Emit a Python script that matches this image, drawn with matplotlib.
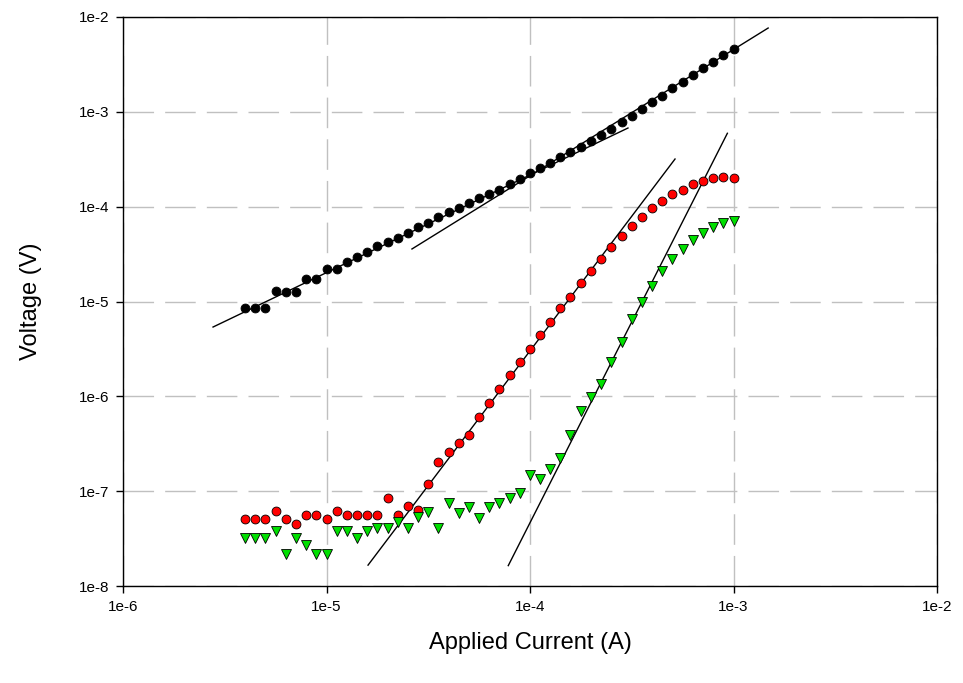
import matplotlib
matplotlib.use("Agg")
import matplotlib.pyplot as plt
from matplotlib.ticker import FixedLocator, NullLocator, FixedFormatter

plt.rcParams['font.family'] = ['Liberation Sans', 'DejaVu Sans']

# Applied current (A)
current = [3.98e-6, 4.47e-6, 5.01e-6, 5.62e-6, 6.31e-6, 7.08e-6, 7.94e-6, 8.91e-6,
           1.00e-5, 1.12e-5, 1.26e-5, 1.41e-5, 1.58e-5, 1.78e-5, 2.00e-5, 2.24e-5,
           2.51e-5, 2.82e-5, 3.16e-5, 3.55e-5, 3.98e-5, 4.47e-5, 5.01e-5, 5.62e-5,
           6.31e-5, 7.08e-5, 7.94e-5, 8.91e-5, 1.00e-4, 1.12e-4, 1.26e-4, 1.41e-4,
           1.58e-4, 1.78e-4, 2.00e-4, 2.24e-4, 2.51e-4, 2.82e-4, 3.16e-4, 3.55e-4,
           3.98e-4, 4.47e-4, 5.01e-4, 5.62e-4, 6.31e-4, 7.08e-4, 7.94e-4, 8.91e-4,
           1.00e-3]

# Voltage (V) series
v_black = [8.60e-6, 8.60e-6, 8.48e-6, 1.29e-5, 1.27e-5, 1.27e-5, 1.73e-5, 1.73e-5,
           2.18e-5, 2.18e-5, 2.59e-5, 2.97e-5, 3.35e-5, 3.85e-5, 4.27e-5, 4.73e-5,
           5.24e-5, 6.03e-5, 6.72e-5, 7.83e-5, 8.72e-5, 9.61e-5, 1.093e-4, 1.225e-4,
           1.36e-4, 1.51e-4, 1.75e-4, 1.97e-4, 2.25e-4, 2.54e-4, 2.87e-4, 3.31e-4,
           3.80e-4, 4.29e-4, 4.98e-4, 5.69e-4, 6.64e-4, 7.72e-4, 9.04e-4, 1.071e-3,
           1.279e-3, 1.480e-3, 1.771e-3, 2.078e-3, 2.446e-3, 2.877e-3, 3.38e-3, 3.97e-3,
           4.60e-3]

v_red = [5.05e-8, 5.05e-8, 5.05e-8, 6.18e-8, 5.05e-8, 4.50e-8, 5.60e-8, 5.60e-8,
         5.05e-8, 6.18e-8, 5.60e-8, 5.60e-8, 5.60e-8, 5.60e-8, 8.41e-8, 5.60e-8,
         7.03e-8, 6.33e-8, 1.19e-7, 2.04e-7, 2.61e-7, 3.20e-7, 3.91e-7, 6.10e-7,
         8.56e-7, 1.195e-6, 1.66e-6, 2.30e-6, 3.19e-6, 4.43e-6, 6.15e-6, 8.48e-6,
         1.123e-5, 1.555e-5, 2.10e-5, 2.81e-5, 3.78e-5, 4.94e-5, 6.30e-5, 7.83e-5,
         9.61e-5, 1.147e-4, 1.350e-4, 1.498e-4, 1.72e-4, 1.865e-4, 1.99e-4, 2.04e-4,
         2.02e-4]

v_green = [3.18e-8, 3.18e-8, 3.18e-8, 3.80e-8, 2.16e-8, 3.23e-8, 2.70e-8, 2.16e-8,
           2.16e-8, 3.80e-8, 3.78e-8, 3.20e-8, 3.78e-8, 4.06e-8, 4.06e-8, 4.73e-8,
           4.06e-8, 5.38e-8, 6.07e-8, 4.09e-8, 7.44e-8, 5.93e-8, 6.86e-8, 5.17e-8,
           6.86e-8, 7.44e-8, 8.57e-8, 9.63e-8, 1.48e-7, 1.343e-7, 1.70e-7, 2.24e-7,
           3.88e-7, 7.04e-7, 9.76e-7, 1.349e-6, 2.28e-6, 3.77e-6, 6.54e-6, 9.95e-6,
           1.457e-5, 2.11e-5, 2.79e-5, 3.58e-5, 4.45e-5, 5.31e-5, 6.15e-5, 6.77e-5,
           7.11e-5]

# Fit lines: (x_start, x_end), (y_start, y_end)
fit_a_x = [2.77e-6, 3.03e-4]
fit_a_y = [5.38e-6, 6.75e-4]
fit_b_x = [2.63e-5, 1.48e-3]
fit_b_y = [3.58e-5, 7.65e-3]
fit_c_x = [1.60e-5, 5.16e-4]
fit_c_y = [1.66e-8, 3.18e-4]
fit_d_x = [7.82e-5, 9.33e-4]
fit_d_y = [1.64e-8, 5.94e-4]

tick_vals = [1e-6, 1e-5, 1e-4, 1e-3, 1e-2]
tick_labels = ['1e-6', '1e-5', '1e-4', '1e-3', '1e-2']
ytick_vals = [1e-8, 1e-7, 1e-6, 1e-5, 1e-4, 1e-3, 1e-2]
ytick_labels = ['1e-8', '1e-7', '1e-6', '1e-5', '1e-4', '1e-3', '1e-2']

fig = plt.figure(figsize=(9.63, 6.83), dpi=100)
ax = fig.add_axes([123/963, 1-586/683, (937-123)/963, (586-17)/683])
ax.set_xscale('log')
ax.set_yscale('log')
ax.set_xlim(1e-6, 1e-2)
ax.set_ylim(1e-8, 1e-2)

ax.grid(True, which='major', color='#c0c0c0', linestyle=(0, (22, 8)), linewidth=1.0)
ax.set_axisbelow(True)

for fx, fy in [(fit_a_x, fit_a_y), (fit_b_x, fit_b_y), (fit_c_x, fit_c_y), (fit_d_x, fit_d_y)]:
    ax.plot(fx, fy, color='black', linewidth=1.0, zorder=2)

ax.plot(current, v_black, linestyle='none', marker='o', markersize=6.4,
        markerfacecolor='black', markeredgecolor='black', markeredgewidth=0.6, zorder=3)
ax.plot(current, v_red, linestyle='none', marker='o', markersize=6.4,
        markerfacecolor='#ff0000', markeredgecolor='black', markeredgewidth=0.6, zorder=3)
ax.plot(current, v_green, linestyle='none', marker='v', markersize=7.4,
        markerfacecolor='#00e000', markeredgecolor='black', markeredgewidth=0.6, zorder=3)

ax.xaxis.set_major_locator(FixedLocator(tick_vals))
ax.xaxis.set_major_formatter(FixedFormatter(tick_labels))
ax.yaxis.set_major_locator(FixedLocator(ytick_vals))
ax.yaxis.set_major_formatter(FixedFormatter(ytick_labels))
ax.xaxis.set_minor_locator(NullLocator())
ax.yaxis.set_minor_locator(NullLocator())
ax.tick_params(axis='both', which='major', direction='out', length=5, width=1,
               labelsize=11, pad=5)
for s in ax.spines.values():
    s.set_linewidth(1.0)

ax.set_xlabel('Applied Current (A)', fontsize=17, labelpad=13)
ax.set_ylabel('Voltage (V)', fontsize=17, labelpad=26)

fig.savefig('out.png', dpi=100)
